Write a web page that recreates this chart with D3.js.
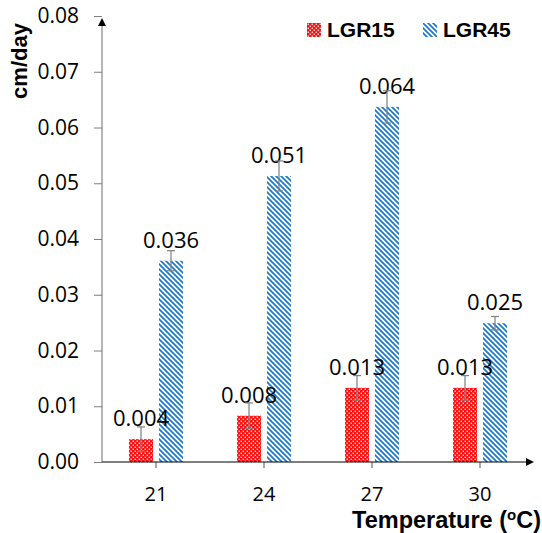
<!DOCTYPE html>
<html>
<head>
<meta charset="utf-8">
<script src="https://cdn.jsdelivr.net/npm/d3@7"></script>
<style>
  html, body { margin: 0; padding: 0; background: #fff; }
  svg { display: block; }
</style>
</head>
<body>
<main></main>
<script>
// Constants
const WIDTH = 542;
const HEIGHT = 533;
const LEFT = 102;
const RIGHT = 534;
const TOP = 16;
const BOTTOM = 462;
const NUM_FONT = '"Open Sans", sans-serif';
const BOLD_FONT = '"Liberation Sans", Arial, sans-serif';

// Data
const temperatures = ['21', '24', '27', '30'];
const seriesNames = ['LGR15', 'LGR45'];
const lgr15 = [0.0041, 0.0083, 0.0133, 0.0133];
const lgr45 = [0.0361, 0.0513, 0.0637, 0.0249];
const lgr15Err = [0.0022, 0.0023, 0.0022, 0.0022];
const lgr45Err = [0.0018, 0.0027, 0.0029, 0.0012];
const yTicks = [0, 0.01, 0.02, 0.03, 0.04, 0.05, 0.06, 0.07, 0.08];

const svg = d3.select('main')
  .append('svg')
  .attr('width', WIDTH)
  .attr('height', HEIGHT);

// Patterns
const defs = svg.append('defs');
const red = defs.append('pattern')
  .attr('id', 'pat-red')
  .attr('patternUnits', 'userSpaceOnUse')
  .attr('width', 4)
  .attr('height', 4);
red.append('rect').attr('width', 4).attr('height', 4).attr('fill', '#ff1010');
red.append('rect').attr('x', 0.6).attr('y', 0.6).attr('width', 1.3).attr('height', 1.3).attr('fill', '#fff');
red.append('rect').attr('x', 2.6).attr('y', 2.6).attr('width', 1.3).attr('height', 1.3).attr('fill', '#fff');

const blue = defs.append('pattern')
  .attr('id', 'pat-blue')
  .attr('patternUnits', 'userSpaceOnUse')
  .attr('width', 5)
  .attr('height', 5);
blue.append('rect').attr('width', 5).attr('height', 5).attr('fill', '#fff');
blue.append('path')
  .attr('d', 'M-1,-1L6,6M-1,4L1,6M4,-1L6,1')
  .attr('stroke', '#1a78cc')
  .attr('stroke-width', 1.7);

// Scales
const x = d3.scaleBand(temperatures, [LEFT, RIGHT]);
const xInner = d3.scaleBand(seriesNames, [0, x.bandwidth()])
  .paddingInner(0.2)
  .paddingOuter(0.9);
const y = d3.scaleLinear([0, 0.08], [BOTTOM, TOP]);

const rows = [];
temperatures.forEach((t, i) => {
  rows.push({ t, s: 'LGR15', v: lgr15[i], e: lgr15Err[i], fill: 'url(#pat-red)' });
  rows.push({ t, s: 'LGR45', v: lgr45[i], e: lgr45Err[i], fill: 'url(#pat-blue)' });
});
const cx = d => x(d.t) + xInner(d.s) + xInner.bandwidth() / 2;

// Y axis
const yAxis = d3.axisLeft(y)
  .tickValues(yTicks)
  .tickFormat(d3.format('.2f'))
  .tickSize(8)
  .tickPadding(15);
const gy = svg.append('g')
  .attr('transform', `translate(${LEFT},0)`)
  .call(yAxis);
gy.select('.domain').remove();
gy.selectAll('.tick line').attr('stroke', '#7f7f7f');
gy.selectAll('.tick text')
  .attr('fill', '#000')
  .style('font-family', NUM_FONT)
  .style('font-size', '21px');
svg.append('line')
  .attr('x1', LEFT).attr('x2', LEFT)
  .attr('y1', BOTTOM).attr('y2', 24)
  .attr('stroke', '#6f6f6f');
svg.append('path')
  .attr('d', `M${LEFT},18L${LEFT - 4},26L${LEFT + 4},26Z`)
  .attr('fill', '#000');

// Bars
svg.append('g')
  .selectAll('rect')
  .data(rows)
  .join('rect')
  .attr('x', d => x(d.t) + xInner(d.s))
  .attr('y', d => y(d.v))
  .attr('width', xInner.bandwidth())
  .attr('height', d => y(0) - y(d.v))
  .attr('fill', d => d.fill);

// X axis
const xAxis = d3.axisBottom(x).tickSize(6).tickPadding(19);
const gx = svg.append('g')
  .attr('transform', `translate(0,${BOTTOM})`)
  .call(xAxis);
gx.select('.domain').remove();
gx.selectAll('.tick line').attr('stroke', '#555');
gx.selectAll('.tick text')
  .attr('fill', '#000')
  .style('font-family', NUM_FONT)
  .style('font-size', '20px');
svg.append('line')
  .attr('x1', LEFT).attr('x2', 528)
  .attr('y1', BOTTOM).attr('y2', BOTTOM)
  .attr('stroke', '#000')
  .attr('stroke-width', 1.2);
svg.append('path')
  .attr('d', `M534,${BOTTOM}L526,${BOTTOM - 4}L526,${BOTTOM + 4}Z`)
  .attr('fill', '#000');

// Value labels
svg.append('g')
  .selectAll('text')
  .data(rows)
  .join('text')
  .attr('x', cx)
  .attr('y', d => y(d.v) - 13)
  .attr('text-anchor', 'middle')
  .style('font-family', NUM_FONT)
  .style('font-size', '22px')
  .text(d => d3.format('.3f')(d.v));

// Error bars
const err = svg.append('g')
  .attr('stroke', '#7f7f7f')
  .attr('stroke-width', 1.2);
rows.forEach(d => {
  const c = cx(d);
  const y1 = y(d.v + d.e);
  const y2 = y(d.v - d.e);
  err.append('line').attr('x1', c).attr('x2', c).attr('y1', y1).attr('y2', y2);
  err.append('line').attr('x1', c - 4).attr('x2', c + 4).attr('y1', y1).attr('y2', y1);
  err.append('line').attr('x1', c - 4).attr('x2', c + 4).attr('y1', y2).attr('y2', y2);
});

// Legend
const legend = [
  { name: 'LGR15', fill: 'url(#pat-red)', x: 307 },
  { name: 'LGR45', fill: 'url(#pat-blue)', x: 423 },
];
const lg = svg.append('g')
  .selectAll('g')
  .data(legend)
  .join('g')
  .attr('transform', d => `translate(${d.x},23)`);
lg.append('rect')
  .attr('width', 14)
  .attr('height', 14)
  .attr('fill', d => d.fill);
lg.append('text')
  .attr('x', 20)
  .attr('y', 14)
  .style('font-family', BOLD_FONT)
  .style('font-weight', 'bold')
  .style('font-size', '21px')
  .text(d => d.name);

// Axis titles
svg.append('text')
  .attr('transform', 'translate(27,61) rotate(-90)')
  .attr('text-anchor', 'middle')
  .style('font-family', BOLD_FONT)
  .style('font-weight', 'bold')
  .style('font-size', '22px')
  .text('cm/day');

const xt = svg.append('text')
  .attr('x', 541)
  .attr('y', 528)
  .attr('text-anchor', 'end')
  .style('font-family', BOLD_FONT)
  .style('font-weight', 'bold')
  .style('font-size', '23.5px');
xt.append('tspan').text('Temperature (');
xt.append('tspan').attr('dy', -8).style('font-size', '15px').text('o');
xt.append('tspan').attr('dy', 8).text('C)');
</script>
</body>
</html>
